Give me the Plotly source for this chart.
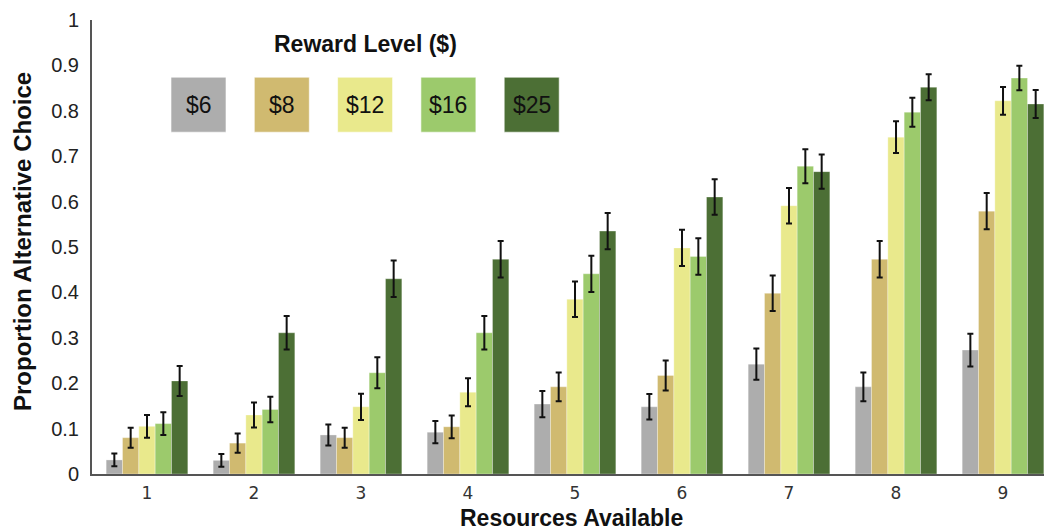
import plotly.graph_objects as go

# Resources available (x categories)
resources = [1, 2, 3, 4, 5, 6, 7, 8, 9]

# Reward levels and their colours
reward_labels = ["$6", "$8", "$12", "$16", "$25"]
reward_colors = ["#ADADAD", "#D0BA70", "#E9E98C", "#9CCA6C", "#4C6F35"]

# Proportion of alternative choices per reward level
prop_6 = [0.031, 0.030, 0.086, 0.092, 0.154, 0.148, 0.242, 0.192, 0.273]
prop_8 = [0.080, 0.068, 0.080, 0.104, 0.192, 0.217, 0.398, 0.473, 0.579]
prop_12 = [0.105, 0.130, 0.148, 0.180, 0.385, 0.498, 0.591, 0.742, 0.822]
prop_16 = [0.111, 0.142, 0.223, 0.311, 0.441, 0.479, 0.678, 0.797, 0.872]
prop_25 = [0.205, 0.311, 0.430, 0.473, 0.535, 0.610, 0.666, 0.852, 0.815]

# Standard errors
err_6 = [0.014, 0.014, 0.023, 0.0245, 0.029, 0.028, 0.0345, 0.0315, 0.036]
err_8 = [0.022, 0.021, 0.022, 0.025, 0.0315, 0.033, 0.039, 0.040, 0.040]
err_12 = [0.025, 0.0275, 0.029, 0.031, 0.039, 0.040, 0.039, 0.035, 0.0305]
err_16 = [0.025, 0.028, 0.034, 0.037, 0.040, 0.040, 0.0375, 0.032, 0.027]
err_25 = [0.033, 0.037, 0.040, 0.040, 0.040, 0.039, 0.0375, 0.0285, 0.031]

y_ticks = [0, 0.1, 0.2, 0.3, 0.4, 0.5, 0.6, 0.7, 0.8, 0.9, 1]
y_tick_text = ["0", "0.1", "0.2", "0.3", "0.4", "0.5", "0.6", "0.7", "0.8", "0.9", "1"]

series = [prop_6, prop_8, prop_12, prop_16, prop_25]
errors = [err_6, err_8, err_12, err_16, err_25]

W, H = 1044, 531
ML, MR, MT, MB = 92, 0, 20, 57
PW, PH = W - ML - MR, H - MT - MB


def px_x(x):
    return (x - ML) / PW


def px_y(y):
    return (H - MB - y) / PH


fig = go.Figure()
for label, color, vals, errs in zip(reward_labels, reward_colors, series, errors):
    fig.add_trace(go.Bar(
        x=resources, y=vals, name=label,
        marker=dict(color=color, line=dict(width=0.6, color="rgba(255,255,255,0.5)")),
        error_y=dict(type="data", array=errs, visible=True,
                     color="#111111", thickness=2, width=3),
        showlegend=False,
    ))

# Custom legend: coloured squares with the reward level written inside
shapes = []
annotations = []
box_w, box_h = 55, 55
first_cx, step, box_cy = 198.5, 83.3, 104.7
for i, (label, color) in enumerate(zip(reward_labels, reward_colors)):
    cx = first_cx + i * step
    shapes.append(dict(
        type="rect", xref="paper", yref="paper",
        x0=px_x(cx - box_w / 2), x1=px_x(cx + box_w / 2),
        y0=px_y(box_cy + box_h / 2), y1=px_y(box_cy - box_h / 2),
        fillcolor=color, line=dict(width=1, color="rgba(255,255,255,0.6)"), layer="above",
    ))
    annotations.append(dict(
        x=px_x(cx), y=px_y(box_cy), xref="paper", yref="paper",
        text=label, showarrow=False, xanchor="center", yanchor="middle",
        font=dict(family="Liberation Sans, Arial", size=23, color="#111111"),
    ))

annotations.append(dict(
    x=px_x(365), y=px_y(43.5), xref="paper", yref="paper",
    text="<b>Reward Level ($)</b>", showarrow=False, xanchor="center", yanchor="middle",
    font=dict(family="Liberation Sans, Arial", size=23, color="#111111"),
))

# Axis titles
annotations.append(dict(
    x=px_x(22), y=px_y(242), xref="paper", yref="paper",
    text="<b>Proportion Alternative Choice</b>", showarrow=False, textangle=-90,
    xanchor="center", yanchor="middle",
    font=dict(family="Liberation Sans, Arial", size=24, color="#111111"),
))
annotations.append(dict(
    x=px_x(571), y=px_y(518), xref="paper", yref="paper",
    text="<b>Resources Available</b>", showarrow=False,
    xanchor="center", yanchor="middle",
    font=dict(family="Liberation Sans, Arial", size=23, color="#111111"),
))

fig.update_layout(
    width=W, height=H,
    margin=dict(l=ML, r=MR, t=MT, b=MB, pad=0),
    paper_bgcolor="white", plot_bgcolor="white",
    barmode="group", bargap=0.237, bargroupgap=0,
    shapes=shapes, annotations=annotations,
    xaxis=dict(
        range=[0.486, 9.383], tickmode="array", tickvals=resources,
        ticktext=[str(r) for r in resources],
        showgrid=False, zeroline=False, showline=True, linecolor="#555555", linewidth=2,
        ticks="", ticklabelstandoff=3,
        tickfont=dict(family="DejaVu Sans", size=17, color="#333333"),
    ),
    yaxis=dict(
        range=[0, 1], tickmode="array", tickvals=y_ticks, ticktext=y_tick_text,
        showgrid=False, zeroline=False, showline=True, linecolor="#555555", linewidth=2,
        ticks="", ticklabelstandoff=7,
        tickfont=dict(family="Liberation Sans, Arial", size=20, color="#222222"),
    ),
)

fig.write_html("out.html")
